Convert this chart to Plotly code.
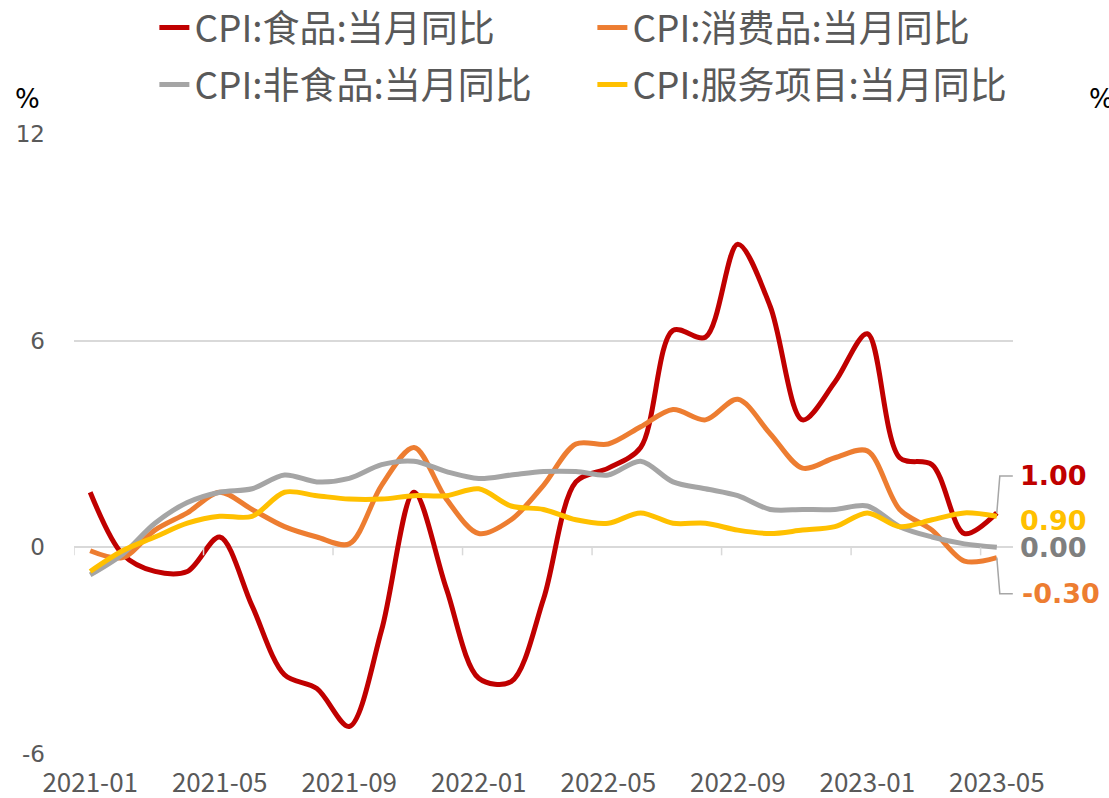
import plotly.graph_objects as go

months = ["2021-01","2021-02","2021-03","2021-04","2021-05","2021-06","2021-07","2021-08","2021-09","2021-10","2021-11","2021-12",
          "2022-01","2022-02","2022-03","2022-04","2022-05","2022-06","2022-07","2022-08","2022-09","2022-10","2022-11","2022-12",
          "2023-01","2023-02","2023-03","2023-04","2023-05"]

food = [1.6,-0.2,-0.7,-0.7,0.3,-1.7,-3.7,-4.1,-5.2,-2.4,1.6,-1.2,-3.8,-3.9,-1.5,1.9,2.3,2.9,6.3,6.1,8.8,7.0,3.7,4.8,6.2,2.6,2.4,0.4,1.0]
consumer = [-0.1,-0.3,0.5,1.0,1.6,1.1,0.6,0.3,0.1,1.8,2.9,1.4,0.4,0.8,1.8,3.0,3.0,3.5,4.0,3.7,4.3,3.3,2.3,2.6,2.8,1.1,0.5,-0.4,-0.3]
nonfood = [-0.8,-0.2,0.7,1.3,1.6,1.7,2.1,1.9,2.0,2.4,2.5,2.2,2.0,2.1,2.2,2.2,2.1,2.5,1.9,1.7,1.5,1.1,1.1,1.1,1.2,0.6,0.3,0.1,0.0]
services = [-0.7,-0.1,0.3,0.7,0.9,0.9,1.6,1.5,1.4,1.4,1.5,1.5,1.7,1.2,1.1,0.8,0.7,1.0,0.7,0.7,0.5,0.4,0.5,0.6,1.0,0.6,0.8,1.0,0.9]

names = ["CPI:食品:当月同比", "CPI:消费品:当月同比", "CPI:非食品:当月同比", "CPI:服务项目:当月同比"]
colors = ["#C00000", "#ED7D31", "#A5A5A5", "#FFC000"]
label_colors = ["#C00000", "#ED7D31", "#7F7F7F", "#FFC000"]
series = [food, consumer, nonfood, services]
legend_ids = ["legend", "legend", "legend2", "legend2"]
y_ticks = [-6, 0, 6, 12]
y_tick_text = ["-6", "0", "6", "12"]
x_tick_labels = months[::4]

fig = go.Figure()
for name, col, vals, lg in zip(names, colors, series, legend_ids):
    fig.add_trace(go.Scatter(x=months, y=vals, name=name, mode="lines",
                             line=dict(color=col, width=5, shape="spline", smoothing=0.9),
                             legend=lg))

# end value labels (shift order: food, consumer, nonfood, services)
label_shift = [37, -36, 0, -4]
label_xshift = [22, 24, 22, 22]
for vals, col, dy, dx in zip(series, label_colors, label_shift, label_xshift):
    fig.add_annotation(x=len(months) - 1, y=vals[-1], text=f"{vals[-1]:.2f}", showarrow=False,
                       xanchor="left", xshift=dx, yshift=dy, borderpad=0,
                       font=dict(family="DejaVu Sans", size=27, color=col, weight="bold"))

# leader lines for shifted labels (pixel offsets from the data point)
for vals, dy in [(food, 37), (consumer, -36)]:
    fig.add_shape(type="path", xref="x", yref="y", xsizemode="pixel", ysizemode="pixel",
                  xanchor=len(months) - 1, yanchor=vals[-1],
                  path=f"M0,0 L3,{dy} L16,{dy}",
                  line=dict(color="#A6A6A6", width=1.5))

# category-boundary ticks along the zero line
for b in range(0, len(months), 4):
    fig.add_shape(type="line", xref="x", yref="y", x0=b - 0.5, x1=b - 0.5,
                  ysizemode="pixel", yanchor=0, y0=0, y1=-8,
                  line=dict(color="#D9D9D9", width=1.5))

fig.add_annotation(xref="paper", yref="paper", x=-0.05, y=1.056, text="%", showarrow=False,
                   xanchor="center", yanchor="middle", font=dict(family="DejaVu Sans", size=26, color="#000000"))
fig.add_annotation(xref="paper", yref="paper", x=1.079, y=1.056, text="%", showarrow=False,
                   xanchor="left", yanchor="middle", font=dict(family="DejaVu Sans", size=26, color="#000000"))

legend_common = dict(orientation="h", xanchor="left", yanchor="middle", entrywidth=393, entrywidthmode="pixels",
                     font=dict(family="Noto Sans CJK SC", size=37, color="#595959"),
                     bgcolor="rgba(0,0,0,0)", itemwidth=30)

fig.update_layout(
    width=1109, height=798,
    margin=dict(l=74, r=96, t=134, b=44, autoexpand=False),
    paper_bgcolor="white", plot_bgcolor="white",
    showlegend=True,
    legend=dict(x=0.0856, y=1.171, **legend_common),
    legend2=dict(x=0.0856, y=1.079, **legend_common),
    xaxis=dict(type="category", categoryorder="array", categoryarray=months,
               range=[-0.5, len(months) - 0.5], tickvals=x_tick_labels, ticktext=x_tick_labels,
               showgrid=False, showline=False, zeroline=False, ticks="",
               tickfont=dict(family="Noto Sans CJK SC", size=26, color="#595959"), tickangle=0,
               ticklabelstandoff=11),
    yaxis=dict(range=[-6, 12], tickvals=y_ticks, ticktext=y_tick_text, showgrid=True,
               gridcolor="#D9D9D9", gridwidth=1.5,
               zeroline=False, showline=False, ticks="",
               tickfont=dict(family="DejaVu Sans", size=23, color="#595959"),
               ticklabelstandoff=28),
)

fig.write_html("out.html", config={"displayModeBar": False},
               post_script="document.body.style.margin='0px';document.body.style.overflow='hidden';")
